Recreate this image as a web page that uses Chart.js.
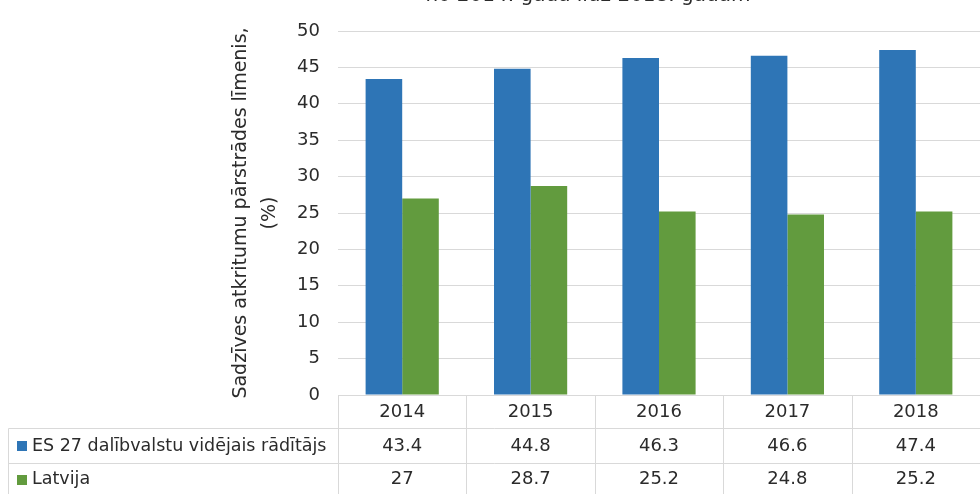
<!DOCTYPE html>
<html>
<head>
<meta charset="utf-8">
<script src="https://cdn.jsdelivr.net/npm/chart.js@4"></script>
<style>
  html, body { margin: 0; padding: 0; background: #fff; overflow: hidden; }
  #wrap { width: 980px; height: 494px; }
</style>
</head>
<body>
<div id="wrap"><canvas id="recyclingChart"></canvas></div>
<script>
  const years = ['2014', '2015', '2016', '2017', '2018'];
  const esValues = [43.4, 44.8, 46.3, 46.6, 47.4];
  const lvValues = [27, 28.7, 25.2, 24.8, 25.2];
  const seriesNames = ['ES 27 dalībvalstu vidējais rādītājs', 'Latvija'];
  const yTicks = [0, 5, 10, 15, 20, 25, 30, 35, 40, 45, 50];
  const titleText = 'no 2014. gada līdz 2018. gadam';
  const yTitle = ['Sadzīves atkritumu pārstrādes līmenis,', '(%)'];

  const blue = '#2e75b6';
  const green = '#629b3e';
  const textColor = '#2b2b2b';
  const lineColor = '#d9d9d9';
  const fontFamily = '"DejaVu Sans", sans-serif';

  // title is cut off at the top of the picture, only its lower part shows
  const cutTitle = {
    id: 'cutTitle',
    afterDraw(chart) {
      const ctx = chart.ctx;
      ctx.save();
      ctx.font = '20px ' + fontFamily;
      ctx.fillStyle = textColor;
      ctx.textAlign = 'center';
      ctx.textBaseline = 'alphabetic';
      ctx.fillText(titleText, 588, 1);
      ctx.restore();
    }
  };

  // excel style data table under the plot
  const dataTable = {
    id: 'dataTable',
    afterDraw(chart) {
      const ctx = chart.ctx;
      const x = chart.scales.x;
      const area = chart.chartArea;
      const top = area.bottom;
      const row1 = 428.5, row2 = 463.5, bottom = 494;
      const colLeft = 8.5;
      const rows = [
        { name: seriesNames[0], color: blue, values: esValues, y: (row1 + row2) / 2 },
        { name: seriesNames[1], color: green, values: lvValues, y: (row2 + bottom + 2) / 2 }
      ];

      ctx.save();
      ctx.strokeStyle = lineColor;
      ctx.lineWidth = 1;
      ctx.beginPath();
      ctx.moveTo(area.left, top + 0.5);
      ctx.lineTo(area.right, top + 0.5);
      ctx.moveTo(colLeft, row1);
      ctx.lineTo(area.right, row1);
      ctx.moveTo(colLeft, row2);
      ctx.lineTo(area.right, row2);
      ctx.moveTo(colLeft, row1);
      ctx.lineTo(colLeft, bottom);
      const step = x.getPixelForValue(1) - x.getPixelForValue(0);
      for (let i = 0; i < years.length; i++) {
        const bx = Math.round(x.getPixelForValue(i) - step / 2) + 0.5;
        ctx.moveTo(bx, top);
        ctx.lineTo(bx, bottom);
      }
      ctx.stroke();

      ctx.font = '18px ' + fontFamily;
      ctx.fillStyle = textColor;
      ctx.textBaseline = 'middle';
      ctx.textAlign = 'center';
      years.forEach((yr, i) => {
        const cx = x.getPixelForValue(i);
        ctx.fillText(yr, cx, (top + row1) / 2 + 1);
        rows.forEach(r => ctx.fillText(String(r.values[i]), cx, r.y));
      });

      ctx.font = '17.5px ' + fontFamily;
      ctx.textAlign = 'left';
      rows.forEach(r => {
        ctx.fillStyle = r.color;
        ctx.fillRect(17, Math.round(r.y) - 5, 10, 10);
        ctx.fillStyle = textColor;
        ctx.fillText(r.name, 32, r.y);
      });
      ctx.restore();
    }
  };

  new Chart(document.getElementById('recyclingChart'), {
    type: 'bar',
    data: {
      labels: years,
      datasets: [{
        label: seriesNames[0],
        data: esValues,
        backgroundColor: blue
      }, {
        label: seriesNames[1],
        data: lvValues,
        backgroundColor: green
      }]
    },
    options: {
      responsive: true,
      maintainAspectRatio: false,
      animation: false,
      layout: { padding: { top: 31, bottom: 99, left: 220, right: 0 } },
      datasets: {
        bar: { categoryPercentage: 0.57, barPercentage: 1 }
      },
      plugins: {
        legend: { display: false },
        tooltip: { enabled: false }
      },
      scales: {
        x: {
          display: false,
          grid: { display: false }
        },
        y: {
          min: 0,
          max: 50,
          afterBuildTicks: (scale) => { scale.ticks = yTicks.map(v => ({ value: v })); },
          afterFit: (scale) => { scale.width = 118; },
          border: { display: false },
          grid: { color: lineColor, drawTicks: false },
          ticks: {
            padding: 18,
            color: textColor,
            font: { family: fontFamily, size: 18 }
          },
          title: {
            display: true,
            text: yTitle,
            color: textColor,
            padding: { top: 6, bottom: 0 },
            font: { family: fontFamily, size: 19, lineHeight: 1.55 }
          }
        }
      }
    },
    plugins: [cutTitle, dataTable]
  });
</script>
</body>
</html>
